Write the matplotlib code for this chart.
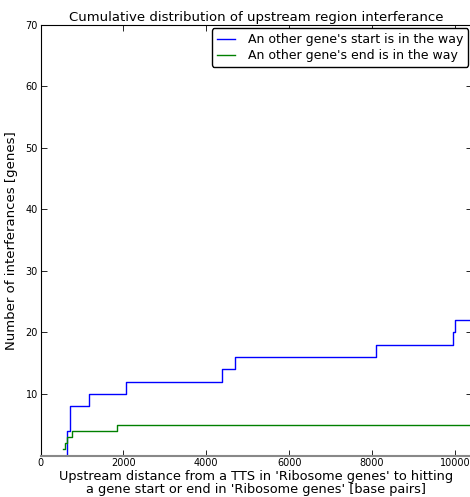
import numpy as np
from matplotlib import pyplot as plt

# upstream distances (bp) at which the cumulative count steps up
start_x = [630, 632, 635, 640, 711, 713, 715, 717, 1160, 1163, 2060, 2063,
           4370, 4373, 4690, 4693, 8100, 8103, 9960, 9963, 9995, 9998]
start_y = [1, 2, 3, 4, 5, 6, 7, 8, 9, 10, 11, 12,
           13, 14, 15, 16, 17, 18, 19, 20, 21, 22]
end_x = [550, 590, 630, 770, 1835]
end_y = [1, 2, 3, 4, 5]

x_max = 10410

plt.rcParams['xtick.direction'] = 'in'
plt.rcParams['ytick.direction'] = 'in'
plt.rcParams['xtick.top'] = True
plt.rcParams['ytick.right'] = True

fig = plt.figure(figsize=(4.7, 4.97), dpi=100)
ax = fig.add_axes([0.0862, 0.0833, 0.918, 0.867])

# blue starts from zero, both held flat to the right edge
bx = [start_x[0]] + start_x + [x_max]
by = [0] + start_y + [start_y[-1]]
gx = end_x + [x_max]
gy = end_y + [end_y[-1]]

ax.plot(bx, by, color='b', lw=1, drawstyle='steps-post',
        label="An other gene's start is in the way")
ax.plot(gx, gy, color='g', lw=1, drawstyle='steps-post',
        label="An other gene's end is in the way")

ax.set_xlim(0, x_max)
ax.set_ylim(0, 70)
ax.set_xticks(np.arange(0, 10001, 2000))
ax.set_yticks(np.arange(0, 71, 10))
ax.set_yticklabels([''] + [str(v) for v in range(10, 71, 10)])
ax.tick_params(labelsize=7, length=4, width=0.6, pad=2)
ax.spines['bottom'].set_color('#888888')
ax.spines['bottom'].set_linewidth(1.5)

ax.set_title('Cumulative distribution of upstream region interferance', fontsize=9.5, pad=3)
ax.set_xlabel("Upstream distance from a TTS in 'Ribosome genes' to hitting\n"
              "a gene start or end in 'Ribosome genes' [base pairs]", fontsize=9.3, labelpad=1, linespacing=1.05)
ax.set_ylabel('Number of interferances [genes]', fontsize=9.5, labelpad=8)
ax.yaxis.set_label_coords(-0.053, 0.5)

leg = ax.legend(loc='upper right', fontsize=9, handlelength=1.45, handletextpad=1.05,
                borderaxespad=0.3, fancybox=True, framealpha=1, labelspacing=0.2)
leg.get_frame().set_edgecolor('black')

fig.savefig('out.png', dpi=100)
